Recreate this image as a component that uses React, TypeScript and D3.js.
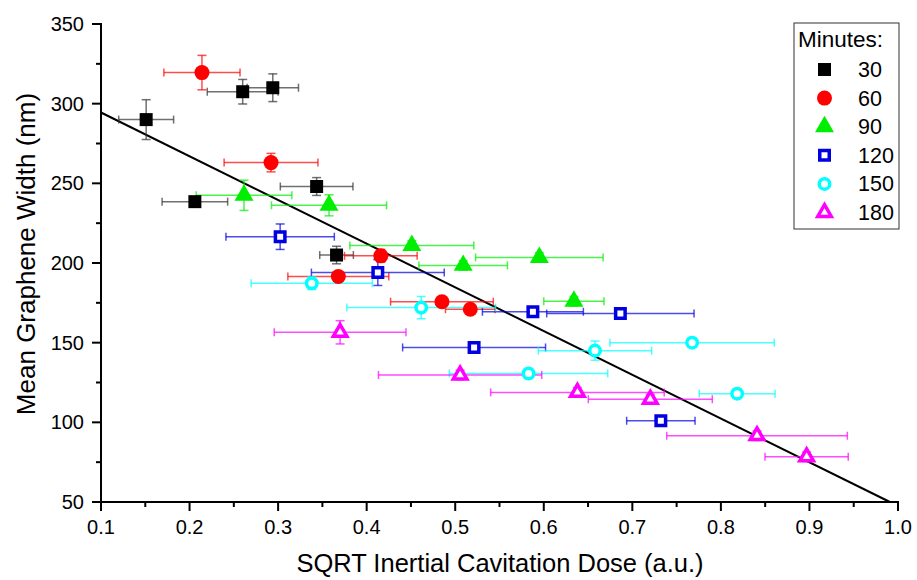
import React from "react";
import * as d3 from "d3";

// ---------- data ----------
const seriesNames = ["30", "60", "90", "120", "150", "180"];
const seriesColors = ["#000000", "#ff0000", "#00ee00", "#0000e0", "#00ffff", "#ff00ff"];
const seriesShapes = ["square", "circle", "triangle", "square", "circle", "triangle"];
const seriesFilled = [true, true, true, false, false, false];

const x30 = [0.151, 0.26, 0.294, 0.206, 0.3435, 0.366];
const y30 = [290, 307.5, 310, 238.5, 248, 205];
const xe30 = [0.031, 0.04, 0.029, 0.037, 0.041, 0.019];
const ye30 = [12.5, 7.7, 8.7, 3, 5.6, 5.5];

const x60 = [0.214, 0.292, 0.416, 0.368, 0.485, 0.517];
const y60 = [319.5, 263, 204.5, 191.5, 175.7, 171];
const xe60 = [0.043, 0.053, 0.041, 0.057, 0.058, 0.028];
const ye60 = [10.8, 5.8, 4, 3, 3, 3];

const x90 = [0.2615, 0.3575, 0.451, 0.509, 0.595, 0.634];
const y90 = [242.5, 236.2, 211, 198.5, 203.5, 176];
const xe90 = [0.054, 0.065, 0.07, 0.05, 0.072, 0.034];
const ye90 = [9.5, 6.6, 3, 3, 3, 3];

const x120 = [0.3023, 0.4126, 0.5213, 0.5877, 0.6865, 0.7322];
const y120 = [216.5, 194, 147, 169.4, 168.3, 101];
const xe120 = [0.0612, 0.075, 0.0807, 0.057, 0.0832, 0.0386];
const ye120 = [8, 8.1, 3, 3, 3, 3];

const x150 = [0.338, 0.4616, 0.5828, 0.6578, 0.7675, 0.8184];
const y150 = [187.3, 172, 130.7, 145, 150, 118];
const xe150 = [0.0684, 0.084, 0.0894, 0.064, 0.0928, 0.0428];
const ye150 = [4, 7, 3, 6, 3, 3];

const x180 = [0.37, 0.5055, 0.638, 0.7203, 0.8408, 0.8968];
const y180 = [156.5, 129.7, 118.8, 114.5, 91.6, 78.4];
const xe180 = [0.0744, 0.0922, 0.098, 0.07, 0.102, 0.047];
const ye180 = [7.3, 3, 3, 3, 3, 3];

const xs = [x30, x60, x90, x120, x150, x180];
const ys = [y30, y60, y90, y120, y150, y180];
const xes = [xe30, xe60, xe90, xe120, xe150, xe180];
const yes = [ye30, ye60, ye90, ye120, ye150, ye180];

const fitIntercept = 321.9;
const fitSlope = -274.4;
const fitXStart = 0.1;

const xTicks = [0.1, 0.2, 0.3, 0.4, 0.5, 0.6, 0.7, 0.8, 0.9, 1.0];
const yTicks = [50, 100, 150, 200, 250, 300, 350];

const xTitle = "SQRT Inertial Cavitation Dose (a.u.)";
const yTitle = "Mean Graphene Width (nm)";
const legendTitle = "Minutes:";

// ---------- layout ----------
const W = 917;
const H = 580;
const FONT = "'Liberation Sans', Arial, sans-serif";

const xScale = d3.scaleLinear().domain([0.1, 1.0]).range([101, 898]);
const yScale = d3.scaleLinear().domain([50, 350]).range([502, 24]);

function markerPath(shape: string, filled: boolean): string {
  if (shape === "square") return d3.symbol(d3.symbolSquare, filled ? 169 : 90)()!;
  if (shape === "circle") return d3.symbol(d3.symbolCircle, filled ? 177 : 87)()!;
  return d3.symbol(d3.symbolTriangle, filled ? 156 : 79)()!;
}

function Marker({ i, x, y }: { i: number; x: number; y: number }) {
  const c = seriesColors[i];
  const f = seriesFilled[i];
  return (
    <path
      d={markerPath(seriesShapes[i], f)}
      transform={`translate(${x},${y})`}
      fill={f ? c : "#ffffff"}
      stroke={f ? "none" : c}
      strokeWidth={f ? 0 : 3.5}
      strokeLinejoin="miter"
    />
  );
}

export default function App() {
  const x0 = xScale.range()[0];
  const y0 = yScale.range()[0];
  const minorX = d3.range(0.15, 1.0, 0.1);
  const minorY = d3.range(75, 350, 50);
  const fitXEnd = (50 - fitIntercept) / fitSlope;
  const fitLine = d3
    .line<number>()
    .x((v) => xScale(v))
    .y((v) => yScale(fitIntercept + fitSlope * v))([fitXStart, fitXEnd]);

  const legX = 794;
  const legY = 23;
  const legRowY = (k: number) => 69.5 + k * 28.6;

  return (
    <svg
      width={W}
      height={H}
      style={{ position: "absolute", left: 0, top: 0, background: "#fff" }}
      fontFamily={FONT}
    >
      <rect x={0} y={0} width={W} height={H} fill="#fff" />

      {/* fit line */}
      <path d={fitLine!} stroke="#000" strokeWidth={2} fill="none" />

      {/* error bars */}
      {xs.map((sx, i) =>
        sx.map((xv, j) => {
          const yv = ys[i][j];
          const xl = xScale(xv - xes[i][j]);
          const xr = xScale(xv + xes[i][j]);
          const yt = yScale(yv + yes[i][j]);
          const yb = yScale(yv - yes[i][j]);
          const px = xScale(xv);
          const py = yScale(yv);
          const c = i === 0 ? "#333" : seriesColors[i];
          return (
            <g key={`e${i}-${j}`} stroke={c} strokeWidth={1.5} strokeOpacity={0.7} fill="none">
              <line x1={xl} x2={xr} y1={py} y2={py} />
              <line x1={xl} x2={xl} y1={py - 4} y2={py + 4} />
              <line x1={xr} x2={xr} y1={py - 4} y2={py + 4} />
              <line x1={px} x2={px} y1={yt} y2={yb} />
              <line x1={px - 4.5} x2={px + 4.5} y1={yt} y2={yt} />
              <line x1={px - 4.5} x2={px + 4.5} y1={yb} y2={yb} />
            </g>
          );
        })
      )}

      {/* markers */}
      {xs.map((sx, i) =>
        sx.map((xv, j) => (
          <Marker key={`m${i}-${j}`} i={i} x={xScale(xv)} y={yScale(ys[i][j])} />
        ))
      )}

      {/* axes */}
      <g stroke="#000" strokeWidth={2}>
        <line x1={x0} x2={x0} y1={yScale.range()[1] - 1} y2={y0 + 1} />
        <line x1={x0 - 1} x2={xScale.range()[1] + 1} y1={y0} y2={y0} />
        {xTicks.map((t) => (
          <line key={`xt${t}`} x1={xScale(t)} x2={xScale(t)} y1={y0} y2={y0 + 9} />
        ))}
        {minorX.map((t) => (
          <line key={`xm${t}`} x1={xScale(t)} x2={xScale(t)} y1={y0} y2={y0 + 5} />
        ))}
        {yTicks.map((t) => (
          <line key={`yt${t}`} x1={x0 - 9} x2={x0} y1={yScale(t)} y2={yScale(t)} />
        ))}
        {minorY.map((t) => (
          <line key={`ym${t}`} x1={x0 - 5} x2={x0} y1={yScale(t)} y2={yScale(t)} />
        ))}
      </g>
      <g fontSize={20} fill="#000">
        {xTicks.map((t) => (
          <text key={`xl${t}`} x={xScale(t)} y={534} textAnchor="middle">
            {d3.format(".1f")(t)}
          </text>
        ))}
        {yTicks.map((t) => (
          <text key={`yl${t}`} x={84} y={yScale(t) + 7} textAnchor="end">
            {t}
          </text>
        ))}
      </g>
      <text x={500} y={572} fontSize={25.5} textAnchor="middle" fill="#000">
        {xTitle}
      </text>
      <text
        transform={`translate(35,254) rotate(-90)`}
        fontSize={26}
        textAnchor="middle"
        fill="#000"
      >
        {yTitle}
      </text>

      {/* legend */}
      <rect x={legX} y={legY} width={105} height={206} fill="#fff" stroke="#333" strokeWidth={1} />
      <text x={798} y={47} fontSize={22.5} fill="#000">
        {legendTitle}
      </text>
      {seriesNames.map((n, k) => (
        <g key={`lg${n}`}>
          <Marker i={k} x={824.5} y={legRowY(k)} />
          <text x={858} y={legRowY(k) + 7.5} fontSize={21.5} fill="#000">
            {n}
          </text>
        </g>
      ))}
    </svg>
  );
}
